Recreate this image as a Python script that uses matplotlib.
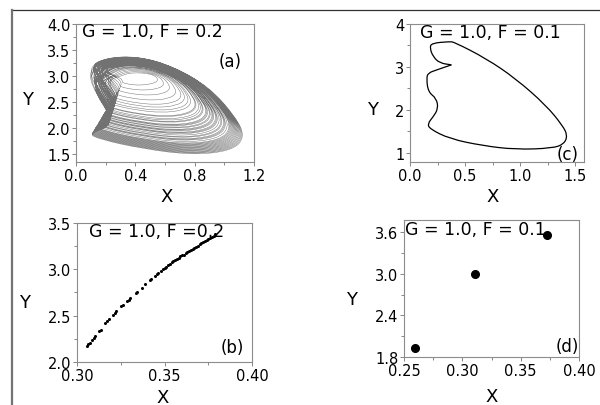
import numpy as np
import matplotlib.pyplot as plt
from matplotlib.path import Path
from matplotlib.patches import PathPatch
from matplotlib.lines import Line2D
from matplotlib.ticker import MultipleLocator, FormatStrFormatter

plt.rcParams['font.family'] = ['DejaVu Sans']

# (a) G=1.0, F=0.2 : outermost loop and innermost turn of the attractor
outer_x = [0.09, 0.20, 0.42, 0.66, 0.90, 1.08, 1.14, 1.05, 0.78, 0.45, 0.16, 0.08, 0.27, 0.09]
outer_y = [3.18, 3.35, 3.38, 3.18, 2.78, 2.20, 1.82, 1.56, 1.48, 1.60, 1.78, 1.90, 2.06, 2.85]
inner_x = [0.32, 0.36, 0.42, 0.48, 0.52, 0.53, 0.52, 0.48, 0.43, 0.38, 0.34, 0.32, 0.315, 0.31]
inner_y = [3.00, 3.04, 3.05, 3.04, 3.01, 2.97, 2.93, 2.90, 2.88, 2.88, 2.90, 2.92, 2.94, 2.97]
# position of every loop between outer (0) and inner (1), in drawing order
loop_w = [0.45, 0.02, 0.69, 0.14, 0.58, 0.30, 0.05, 0.52, 0.96, 0.20, 0.36, 0.09,
          0.37, 0.82, 0.00, 0.61, 0.26, 0.44, 0.04, 0.49, 0.75, 0.12, 0.32, 0.33,
          0.15, 0.07, 0.53, 0.17, 0.89, 0.41, 0.08, 0.23, 0.65, 0.40, 0.29, 0.03,
          0.11, 0.01, 0.06, 0.28, 0.19, 0.39, 0.13, 0.24, 0.10, 0.34, 0.47, 0.21]

# (c) G=1.0, F=0.1 : limit cycle
cyc_x = [0.196, 0.36, 0.40, 0.69, 0.96, 1.235, 1.385, 1.43, 1.40, 1.295, 0.96, 0.66,
         0.36, 0.18, 0.16, 0.21, 0.256, 0.24, 0.165, 0.15, 0.165, 0.24, 0.377, 0.377,
         0.27, 0.21, 0.18]
cyc_y = [3.555, 3.59, 3.58, 3.20, 2.73, 2.11, 1.64, 1.41, 1.21, 1.11, 1.08, 1.17,
         1.33, 1.56, 1.68, 1.84, 2.03, 2.27, 2.42, 2.74, 2.86, 2.93, 3.05, 3.05,
         3.09, 3.24, 3.44]

# (b) G=1.0, F=0.2 : Poincare section
sec_x = [0.3055, 0.3065, 0.3075, 0.3085, 0.3095, 0.3105, 0.3125, 0.3135, 0.316, 0.317,
         0.318, 0.3205, 0.3215, 0.3225, 0.325, 0.326, 0.3285, 0.3295, 0.3305, 0.3335,
         0.3345, 0.337, 0.339, 0.3415, 0.3425, 0.3445, 0.3455, 0.3465, 0.348, 0.349,
         0.350, 0.351, 0.352, 0.353, 0.354, 0.355, 0.356, 0.357, 0.358, 0.359, 0.360,
         0.361, 0.362, 0.363, 0.364, 0.365, 0.366, 0.367, 0.368, 0.369, 0.370, 0.371,
         0.372, 0.373, 0.374, 0.375, 0.376, 0.377, 0.378, 0.379]
sec_y = [2.17, 2.19, 2.21, 2.24, 2.26, 2.28, 2.33, 2.35, 2.42, 2.44,
         2.46, 2.51, 2.53, 2.55, 2.60, 2.615, 2.655, 2.67, 2.69, 2.745,
         2.76, 2.80, 2.84, 2.885, 2.90, 2.93, 2.945, 2.96, 2.985, 3.00,
         3.015, 3.03, 3.045, 3.06, 3.075, 3.09, 3.10, 3.115, 3.125, 3.14, 3.15,
         3.16, 3.175, 3.185, 3.20, 3.21, 3.22, 3.235, 3.245, 3.255, 3.27, 3.28,
         3.29, 3.305, 3.315, 3.33, 3.34, 3.35, 3.365, 3.38]

# (d) G=1.0, F=0.1 : Poincare section (period 3)
pts_x = [0.2595, 0.3105, 0.3722]
pts_y = [1.93, 3.00, 3.57]


def spline_path(xs, ys, closed=False):
    # smooth curve that uses the read points as its control polygon
    p = np.column_stack([xs, ys])
    if closed:
        p = np.vstack([p, p[:2]])
    mids = (p[:-1] + p[1:]) / 2
    verts = [mids[0]]
    codes = [Path.MOVETO]
    for i in range(1, len(mids)):
        verts += [p[i], mids[i]]
        codes += [Path.CURVE3, Path.CURVE3]
    return Path(verts, codes)


def style(ax, xlim, ylim, xmaj, xmin, ymaj, ymin, xfmt, yfmt):
    ax.set_xlim(xlim)
    ax.set_ylim(ylim)
    ax.xaxis.set_major_locator(MultipleLocator(xmaj))
    ax.xaxis.set_minor_locator(MultipleLocator(xmin))
    ax.yaxis.set_major_locator(MultipleLocator(ymaj))
    ax.yaxis.set_minor_locator(MultipleLocator(ymin))
    ax.xaxis.set_major_formatter(FormatStrFormatter(xfmt))
    ax.yaxis.set_major_formatter(FormatStrFormatter(yfmt))
    for s in ax.spines.values():
        s.set_color('0.55')
        s.set_linewidth(0.8)
    ax.tick_params(which='both', direction='out', color='0.45', width=0.6,
                   labelsize=10.5, pad=1)
    ax.tick_params(which='major', length=3)
    ax.tick_params(which='minor', length=2)


fig = plt.figure(figsize=(6, 4.06), dpi=100)

# panel (a)
ax_a = fig.add_axes([76/600, 1-163/406, 178/600, 138/406])
lx, ly = [], []
for w in loop_w:
    lx += [(1-w)*a + w*b for a, b in zip(outer_x, inner_x)]
    ly += [(1-w)*a + w*b for a, b in zip(outer_y, inner_y)]
ax_a.add_patch(PathPatch(spline_path(lx, ly), fill=False, edgecolor='0.15',
                         lw=0.35, alpha=0.65))
style(ax_a, (0, 1.2), (1.345, 4.0), 0.4, 0.2, 0.5, 0.25, '%.1f', '%.1f')
ax_a.text(0.035, 0.95, 'G = 1.0, F = 0.2', transform=ax_a.transAxes, fontsize=12.5,
          va='center', ha='left')
ax_a.text(0.865, 0.73, '(a)', transform=ax_a.transAxes, fontsize=12,
          va='center', ha='center')

# panel (c)
ax_c = fig.add_axes([410/600, 1-163/406, 174/600, 138/406])
ax_c.add_patch(PathPatch(spline_path(cyc_x, cyc_y, closed=True), fill=False,
                         edgecolor='black', lw=0.9))
style(ax_c, (0, 1.58), (0.79, 4.0), 0.5, 0.25, 1, 0.5, '%.1f', '%d')
ax_c.text(0.06, 0.942, 'G = 1.0, F = 0.1', transform=ax_c.transAxes, fontsize=12.5,
          va='center', ha='left')
ax_c.text(0.908, 0.058, '(c)', transform=ax_c.transAxes, fontsize=12,
          va='center', ha='center')

# panel (b)
ax_b = fig.add_axes([77/600, 1-363/406, 175/600, 139/406])
ax_b.plot(sec_x, sec_y, 'o', color='black', ms=2.2, mew=0)
style(ax_b, (0.30, 0.40), (2.0, 3.5), 0.05, 0.025, 0.5, 0.25, '%.2f', '%.1f')
ax_b.text(0.07, 0.942, 'G = 1.0, F =0.2', transform=ax_b.transAxes, fontsize=12.5,
          va='center', ha='left')
ax_b.text(0.886, 0.108, '(b)', transform=ax_b.transAxes, fontsize=12,
          va='center', ha='center')

# panel (d)
ax_d = fig.add_axes([404/600, 1-358/406, 175/600, 137/406])
ax_d.plot(pts_x, pts_y, 'o', color='black', ms=5.5)
style(ax_d, (0.25, 0.40), (1.8, 3.78), 0.05, 0.025, 0.6, 0.3, '%.2f', '%.1f')
ax_d.text(0.006, 0.934, 'G = 1.0, F = 0.1', transform=ax_d.transAxes, fontsize=12.5,
          va='center', ha='left')
ax_d.text(0.931, 0.08, '(d)', transform=ax_d.transAxes, fontsize=12,
          va='center', ha='center')

# axis titles placed like the original
for (px, py, s) in [(28, 100, 'Y'), (167, 197, 'X'), (373, 110, 'Y'), (493, 197, 'X'),
                    (25, 303, 'Y'), (163, 398, 'X'), (352, 300, 'Y'), (492, 397, 'X')]:
    fig.text(px/600, 1-py/406, s, fontsize=13, ha='center', va='center')

# frame edges of the cropped figure
fig.add_artist(Line2D([12/600, 1], [1-11/406, 1-11/406], transform=fig.transFigure,
                      color='0.2', lw=0.9))
fig.add_artist(Line2D([12/600, 12/600], [0, 1-11/406], transform=fig.transFigure,
                      color='0.45', lw=1.6))

fig.savefig('out.png', dpi=100)
